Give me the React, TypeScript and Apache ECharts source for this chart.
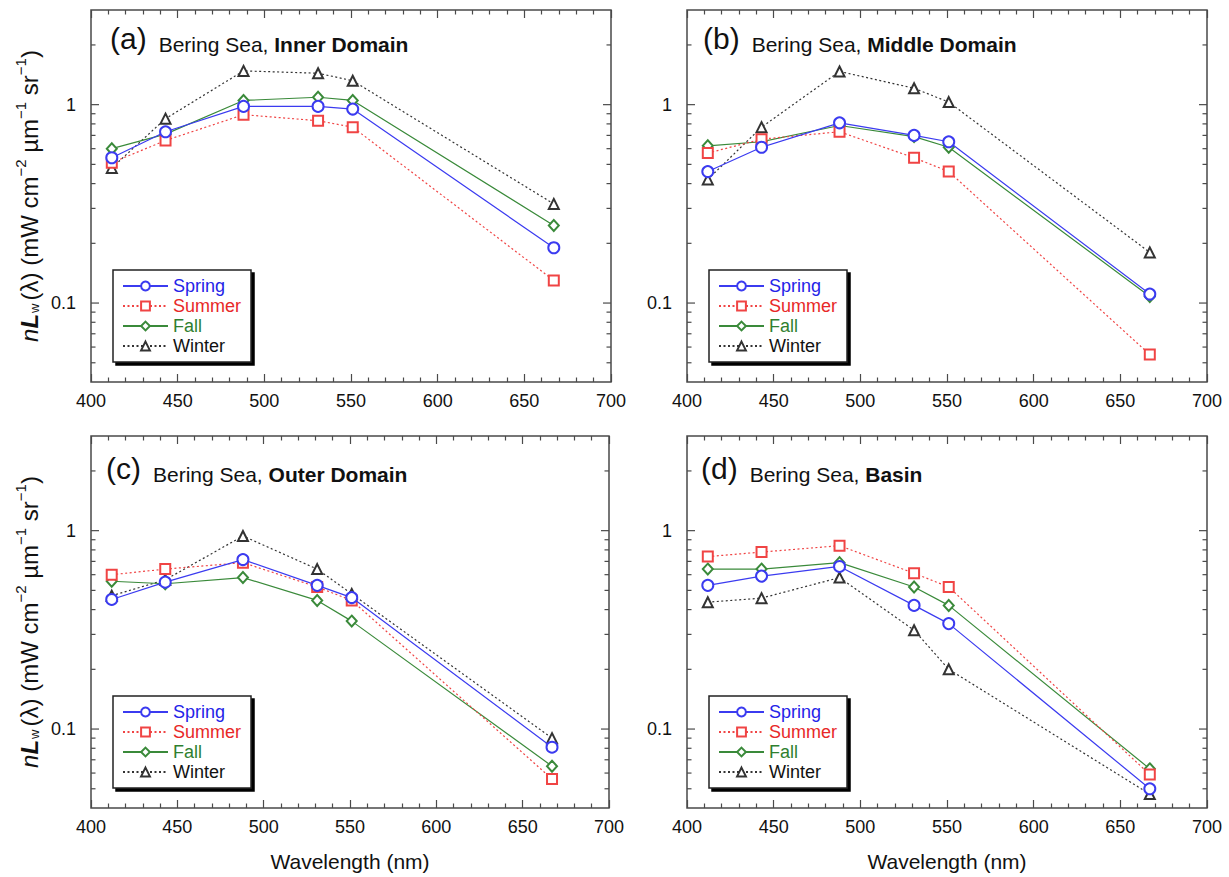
import React, { useEffect, useRef } from "react";
import * as echarts from "echarts";

const wavelengths = [412, 443, 488, 531, 551, 667];
const seasons = ["Spring", "Summer", "Fall", "Winter"];

const innerSpring = [0.54, 0.73, 0.98, 0.98, 0.95, 0.19];
const innerSummer = [0.51, 0.66, 0.89, 0.83, 0.77, 0.13];
const innerFall = [0.6, 0.71, 1.05, 1.09, 1.05, 0.246];
const innerWinter = [0.48, 0.85, 1.48, 1.44, 1.32, 0.316];

const middleSpring = [0.46, 0.61, 0.81, 0.7, 0.65, 0.111];
const middleSummer = [0.57, 0.67, 0.73, 0.54, 0.46, 0.055];
const middleFall = [0.62, 0.65, 0.785, 0.69, 0.61, 0.108];
const middleWinter = [0.42, 0.77, 1.47, 1.21, 1.03, 0.18];

const outerSpring = [0.45, 0.55, 0.715, 0.53, 0.46, 0.081];
const outerSummer = [0.6, 0.64, 0.69, 0.52, 0.445, 0.056];
const outerFall = [0.556, 0.54, 0.58, 0.445, 0.35, 0.065];
const outerWinter = [0.47, 0.565, 0.94, 0.64, 0.48, 0.09];

const basinSpring = [0.53, 0.59, 0.66, 0.42, 0.34, 0.05];
const basinSummer = [0.74, 0.78, 0.84, 0.61, 0.52, 0.059];
const basinFall = [0.64, 0.64, 0.69, 0.52, 0.42, 0.063];
const basinWinter = [0.436, 0.457, 0.58, 0.315, 0.2, 0.047];

const panelLetters = ["(a)", "(b)", "(c)", "(d)"];
const panelNames = ["Inner Domain", "Middle Domain", "Outer Domain", "Basin"];
const panelData = [
  [innerSpring, innerSummer, innerFall, innerWinter],
  [middleSpring, middleSummer, middleFall, middleWinter],
  [outerSpring, outerSummer, outerFall, outerWinter],
  [basinSpring, basinSummer, basinFall, basinWinter],
];

const xMin = 400;
const xMax = 700;
const xStep = 50;
const yMin = 0.04;
const yMax = 3;
const yMinorTicks = [0.05, 0.06, 0.07, 0.08, 0.09, 0.2, 0.3, 0.4, 0.5, 0.6, 0.7, 0.8, 0.9, 2];
const yMajorTicks = [0.1, 1];

const FONT = "'Liberation Sans', Arial, Helvetica, sans-serif";
const frameColor = "#4a4a4a";
const textColor = "#111";

const lineColors = ["#3b3bf0", "#f04444", "#3a8a3a", "#333333"];
const legendTextColors = ["#2424e8", "#e82828", "#2f7f2f", "#111111"];
const lineTypes: any[] = ["solid", [2, 2.5], "solid", [2, 2.5]];
const symbols = ["emptyCircle", "emptyRect", "emptyDiamond", "emptyTriangle"];
const symbolSizes: any[] = [11, 10, [10, 11], 10];

const grids = [
  { left: 91, top: 10, width: 520, height: 372 },
  { left: 687, top: 10, width: 520, height: 372 },
  { left: 91, top: 436, width: 518, height: 372 },
  { left: 687, top: 436, width: 520, height: 372 },
];
const titleLefts = [110, 703, 106, 701];
const titleTops = [25, 25, 455, 455];
const legendTops = [270, 270, 696, 696];

function buildOption() {
  const xAxis: any[] = [];
  const yAxis: any[] = [];
  const series: any[] = [];
  const title: any[] = [];
  const legend: any[] = [];

  grids.forEach((g, i) => {
    const bottomRow = i >= 2;
    const leftCol = i % 2 === 0;
    xAxis.push({
      type: "value",
      gridIndex: i,
      min: xMin,
      max: xMax,
      interval: xStep,
      position: "bottom",
      axisLine: { show: false },
      axisTick: { show: true, inside: true, length: 8, lineStyle: { color: frameColor, width: 1.2 } },
      minorTick: { show: true, splitNumber: 5, length: 4.5, lineStyle: { color: frameColor, width: 1.2 } },
      splitLine: { show: false },
      axisLabel: { fontSize: 18, color: textColor, fontFamily: FONT, margin: 10 },
      name: bottomRow ? "Wavelength (nm)" : "",
      nameLocation: "middle",
      nameGap: 43,
      nameTextStyle: { fontSize: 21, color: textColor, fontFamily: FONT },
    });
    xAxis.push({
      type: "value",
      gridIndex: i,
      min: xMin,
      max: xMax,
      interval: xStep,
      position: "top",
      axisLine: { show: false },
      axisTick: { show: true, inside: true, length: 8, lineStyle: { color: frameColor, width: 1.2 } },
      minorTick: { show: true, splitNumber: 5, length: 4.5, lineStyle: { color: frameColor, width: 1.2 } },
      splitLine: { show: false },
      axisLabel: { show: false },
    });
    yAxis.push({
      type: "log",
      logBase: 10,
      gridIndex: i,
      min: yMin,
      max: yMax,
      axisLine: { show: false },
      axisTick: { show: false },
      splitLine: { show: false },
      axisLabel: {
        fontSize: 18,
        color: textColor,
        fontFamily: FONT,
        margin: 15,
        showMinLabel: false,
        showMaxLabel: false,
        formatter: (v: number) => {
          const l = Math.log10(v);
          if (Math.abs(l - Math.round(l)) < 1e-6) {
            return String(Number(Math.pow(10, Math.round(l)).toPrecision(1)));
          }
          return "";
        },
      },
      name: leftCol
        ? "{i|n}{bi|L}{sub|w}{r|(λ) (mW cm}{sup|−2}{r| µm}{sup|−1}{r| sr}{sup|−1}{r|)}"
        : "",
      nameLocation: "middle",
      nameGap: 50,
      nameRotate: 90,
      nameTextStyle: {
        fontFamily: FONT,
        fontWeight: "normal",
        color: textColor,
        rich: {
          i: { fontSize: 24, fontStyle: "italic", fontWeight: "normal", fontFamily: FONT, color: textColor, lineHeight: 28, verticalAlign: "bottom" },
          bi: { fontSize: 24, fontStyle: "italic", fontWeight: "bold", fontFamily: FONT, color: textColor, lineHeight: 28, verticalAlign: "bottom" },
          sub: { fontSize: 13, fontWeight: "normal", fontFamily: FONT, color: textColor, lineHeight: 12, verticalAlign: "bottom", padding: [0, 3, 0, 1] },
          r: { fontSize: 24, fontWeight: "normal", fontFamily: FONT, color: textColor, lineHeight: 28, verticalAlign: "bottom" },
          sup: { fontSize: 15, fontWeight: "normal", fontFamily: FONT, color: textColor, lineHeight: 15, verticalAlign: "top" },
        },
      },
    });

    title.push({
      left: titleLefts[i],
      top: titleTops[i],
      padding: 0,
      text: `{p|${panelLetters[i]}}{n|Bering Sea, }{b|${panelNames[i]}}`,
      textStyle: {
        fontWeight: "normal",
        rich: {
          p: { fontSize: 30, fontFamily: FONT, fontWeight: "normal", color: textColor, lineHeight: 30, verticalAlign: "bottom", padding: [0, 12, 2, 0] },
          n: { fontSize: 21, fontFamily: FONT, fontWeight: "normal", color: textColor, lineHeight: 21, verticalAlign: "bottom" },
          b: { fontSize: 21, fontFamily: FONT, fontWeight: "bold", color: textColor, lineHeight: 21, verticalAlign: "bottom" },
        },
      },
    });

    legend.push({
      orient: "vertical",
      left: g.left + 22,
      top: legendTops[i],
      backgroundColor: "#fff",
      borderColor: "#222",
      borderWidth: 1.5,
      borderRadius: 0,
      padding: [7, 10, 7, 9],
      itemGap: 2,
      itemWidth: 45,
      itemHeight: 11,
      shadowColor: "#000",
      shadowBlur: 0,
      shadowOffsetX: 3,
      shadowOffsetY: 3,
      selectedMode: false,
      textStyle: { fontSize: 18, fontFamily: FONT, lineHeight: 18, padding: [0, 0, 0, 0] },
      data: seasons.map((s, k) => ({ name: s, textStyle: { color: legendTextColors[k] } })),
    });

    seasons.forEach((s, k) => {
      const vals = panelData[i][k];
      series.push({
        type: "line",
        name: s,
        xAxisIndex: i * 2,
        yAxisIndex: i,
        data: wavelengths.map((w, j) => [w, vals[j]]),
        symbol: symbols[k],
        symbolSize: symbolSizes[k],
        showAllSymbol: true,
        lineStyle: { color: lineColors[k], width: 1.2, type: lineTypes[k] },
        itemStyle: { color: lineColors[k], borderWidth: 1.1 },
        z: 3 + (3 - k),
      });
    });

    series.push({
      type: "custom",
      xAxisIndex: i * 2,
      yAxisIndex: i,
      silent: true,
      z: 10,
      encode: { x: 0, y: 1 },
      data: [
        ...yMinorTicks.map((v) => [xMin, v, 0]),
        ...yMajorTicks.map((v) => [xMin, v, 1]),
      ],
      renderItem: (params: any, api: any) => {
        const pt = api.coord([api.value(0), api.value(1)]);
        const cs = params.coordSys;
        const len = api.value(2) ? 8 : 4.5;
        const style = { stroke: frameColor, lineWidth: 1.2 };
        return {
          type: "group",
          children: [
            { type: "line", shape: { x1: cs.x, y1: pt[1], x2: cs.x + len, y2: pt[1] }, style },
            { type: "line", shape: { x1: cs.x + cs.width, y1: pt[1], x2: cs.x + cs.width - len, y2: pt[1] }, style },
          ],
        };
      },
    });
  });

  return {
    animation: false,
    backgroundColor: "#fff",
    textStyle: { fontFamily: FONT },
    grid: grids.map((g) => ({ ...g, show: true, borderColor: frameColor, borderWidth: 1.5, backgroundColor: "transparent" })),
    xAxis,
    yAxis,
    title,
    legend,
    series,
  };
}

export default function App() {
  const ref = useRef<HTMLDivElement>(null);
  useEffect(() => {
    if (!ref.current) return;
    const chart = echarts.init(ref.current, undefined, { renderer: "svg" });
    chart.setOption(buildOption() as any);
    return () => chart.dispose();
  }, []);
  return (
    <div
      ref={ref}
      style={{ position: "absolute", left: 0, top: 0, width: 1229, height: 877, background: "#fff" }}
    />
  );
}
